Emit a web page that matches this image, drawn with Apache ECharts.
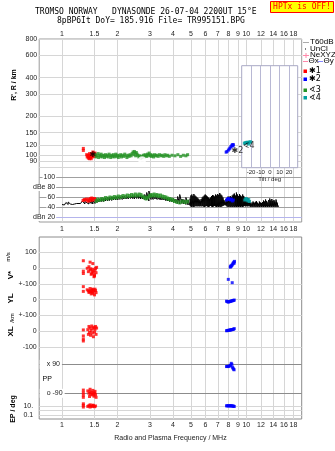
<!DOCTYPE html>
<html><head><meta charset="utf-8">
<script src="https://cdn.jsdelivr.net/npm/echarts@6/dist/echarts.min.js"></script>
<style>html,body{margin:0;padding:0;background:#fff}#c{width:335px;height:451px}</style>
</head><body><div id="c"></div>
<script>
// ---------- axis ticks / labels ----------
const freqTicks  = [1,1.5,2,3,4,5,6,7,8,9,10,12,14,16,18];
const freqLabels = ['1','1.5','2','3','4','5','6','7','8','9','10','12','14','16','18'];
const heightTicks = [800,600,400,300,200,150,120,100,90,80];
const ampTicks  = [20,40,60,80,100];
const ampLabels = ['dBn 20','40','60','dBe 80','100'];
const tiltTicks = [-20,-10,0,10,20];
const vTicks  = [100,0,-100];  const vLabels  = ['100','0','+-100'];
const ylTicks = [0,-100];      const ylLabels = ['0','+-100'];
const xlTicks = [0,-100];      const xlLabels = ['0','-100'];
const ppTicks = [90,-90];      const ppLabels = ['x 90','o -90'];
const epTicks = [10,1,0.1];    const epLabels = ['10.','','0.1'];

// ---------- virtual height R' (MHz, km) ----------
const redH = [[1.305,113],[1.305,109],[1.36,101],[1.37,97],[1.38,100],[1.39,95],[1.40,98],[1.41,94],[1.41,103],[1.42,100],[1.43,96],[1.44,99],[1.45,103],[1.46,97],[1.47,100],[1.48,104],[1.49,98],[1.50,101],[1.51,104],[1.52,99],[1.44,94],[1.47,106]];
const greenH = [[1.52,101],[1.53,97],[1.55,99],[1.57,103],[1.58,96],[1.60,100],[1.62,98],[1.63,102],[1.65,97],[1.67,100],[1.69,99],[1.70,96],[1.72,101],[1.74,98],[1.76,100],[1.78,97],[1.80,102],[1.82,99],[1.84,96],[1.86,100],[1.88,98],[1.90,101],[1.92,97],[1.94,99],[1.96,102],[1.98,98],[2.00,100],[2.02,96],[2.05,99],[2.08,101],[2.10,97],[2.13,100],[2.16,98],[2.19,102],[2.22,99],[2.25,96],[2.28,100],[2.31,98],[2.34,101],[2.37,99],[2.40,103],[2.43,106],[2.45,101],[2.47,107],[2.49,104],[2.51,99],[2.53,105],[2.55,102],[2.58,100],[2.61,97],[2.64,99],[2.67,95],[2.70,98],[2.73,96],[2.76,100],[2.79,97],[2.82,101],[2.85,99],[2.88,98],[2.91,102],[2.94,100],[2.97,104],[3.00,99],[3.03,101],[3.06,98],[3.10,100],[3.14,97],[3.18,101],[3.22,99],[3.27,100],[3.32,98],[3.38,101],[3.44,99],[3.50,100],[3.56,98],[3.62,101],[3.68,99],[3.75,100],[3.82,98],[3.95,100],[4.10,99],[4.25,101],[4.40,98],[4.55,100],[4.70,99],[4.80,101]];
const blueH = [[7.77,105.6],[7.85,107],[7.99,109.6],[8.08,112],[8.17,114],[8.25,117],[8.34,119.5],[8.42,121],[8.51,120.7],[8.45,118]];
const tealH = [[9.75,124],[9.85,125],[9.95,125],[10.05,126],[10.15,126],[10.25,125],[10.35,126],[10.45,127],[10.55,127],[10.3,122]];
const annPts   = [[1.47,100],[8.95,109],[10.3,118.7]];
const annTexts = ['✱','✱2','∢4'];
const circlePts = [[2.72,91.5]];

// ---------- amplitude (MHz, dB) ----------
const ampFreq = [1.00,1.03,1.05,1.08,1.11,1.14,1.17,1.20,1.23,1.26,1.29,1.33,1.36,1.40,1.44,1.47,1.51,1.55,1.59,1.64,1.68,1.72,1.77,1.81,1.86,1.91,1.96,2.01,2.06,2.12,2.17,2.23,2.29,2.35,2.41,2.47,2.54,2.60,2.67,2.74,2.81,2.88,2.96,3.04,3.12,3.20,3.28,3.37,3.45,3.54,3.64,3.73,3.83,3.93,4.03,4.14,4.24,4.35,4.47,4.58,4.70,4.83,4.95,
 5.00,5.06,5.13,5.19,5.26,5.33,5.40,5.47,5.54,5.61,5.68,5.76,5.83,5.91,5.98,6.06,6.14,6.22,6.30,6.38,6.47,6.55,6.64,6.72,6.81,6.90,6.99,7.08,7.17,7.27,7.36,7.46,7.55,7.65,7.75,7.85,7.96,8.06,8.17,8.27,8.38,8.49,8.60,8.72,8.83,8.95,9.06,9.18,9.30,9.42,9.55,9.67,9.80,9.93,10.06,10.19,10.32,10.46,10.59,10.73,10.87,11.02,11.16,11.31,11.45,11.60,11.76,11.91,12.07,12.22,12.38,12.55,12.71,12.88,13.05,13.22,13.39,13.57,13.74,13.92,14.11,14.29,14.48,14.67,14.86,15.05];
const ampLo = [46,45,47,46,47,46,47,48,47,48,48,47,48,47,48,47,48,50,51,52,52,53,53,54,54,55,55,55,56,56,57,57,57,58,58,57,58,58,57,57,56,55,53,56,56,57,56,56,55,55,54,53,52,51,50,49,48,47,48,47,46,45,44,
 42,41,42,41,42,43,42,43,42,43,42,43,42,41,42,43,42,41,42,43,42,41,42,43,42,41,42,41,42,41,42,43,44,45,44,42,41,42,41,42,41,42,41,42,41,42,41,42,41,42,41,42,43,42,43,42,43,42,41,42,41,42,41,42,41,42,41,42,41,42,41,42,41,42,41,42,41,42,41,42,41,42,41,42,41,40];
const ampHi = [50,49,50,51,50,49,51,51,52,51,53,52,54,53,55,54,55,56,57,58,58,59,60,60,61,61,62,62,62,63,63,64,63,64,65,64,65,64,64,63,66,70,73,66,63,64,63,62,62,61,60,59,58,57,58,57,62,66,57,56,60,55,58,
 64,66,63,67,64,62,60,58,56,54,57,60,62,64,66,64,62,60,58,60,63,65,64,62,66,64,67,65,69,66,64,60,55,52,56,58,62,60,63,61,64,66,68,64,70,66,63,67,64,62,66,63,60,58,57,59,55,50,48,50,52,49,51,53,50,48,52,50,49,51,54,52,56,53,50,55,58,54,57,53,55,52,56,50,44,42];
const redAmp = [[1.30,54],[1.32,56],[1.34,55],[1.36,57],[1.38,53],[1.40,56],[1.42,58],[1.44,54],[1.46,57],[1.48,55],[1.50,58],[1.52,56],[1.40,53],[1.45,59]];
const greenAmp = [[1.53,53],[1.56,56],[1.60,55],[1.64,57],[1.68,56],[1.72,59],[1.77,58],[1.82,60],[1.87,59],[1.92,61],[1.97,60],[2.02,62],[2.08,61],[2.14,63],[2.20,62],[2.26,64],[2.32,63],[2.38,65],[2.44,64],[2.50,66],[2.56,64],[2.62,66],[2.68,65],[2.74,62],[2.80,60],[2.86,58],[2.92,60],[2.98,63],[3.04,65],[3.10,64],[3.16,66],[3.22,64],[3.28,65],[3.34,63],[3.42,64],[3.50,62],[3.58,61],[3.66,60],[3.74,58],[3.82,57],[3.90,56],[3.98,55],[4.08,53],[4.20,51],[4.35,50],[4.50,52],[4.65,51],[4.80,52]];
const blueAmp = [[7.8,55],[7.9,57],[8.0,58],[8.1,56],[8.2,55],[8.3,57],[8.4,53],[8.5,55]];
const tealAmp = [[9.8,55],[9.9,57],[10.0,58],[10.1,55],[10.2,53],[10.3,56],[10.4,52]];

// ---------- lower panels (MHz, value) ----------
const redV  = [[1.305,46],[1.305,-20],[1.305,-35],[1.37,-2],[1.39,-23],[1.40,8],[1.42,37],[1.42,-13],[1.43,-5],[1.45,-34],[1.46,-20],[1.47,-8],[1.48,-27],[1.49,-55],[1.50,-44],[1.51,-15],[1.52,-2],[1.53,-30],[1.54,4],[1.47,28],[1.44,-40],[1.50,-50]];
const redYL = [[1.305,107],[1.305,82],[1.305,52],[1.37,62],[1.39,55],[1.40,45],[1.42,70],[1.43,50],[1.44,36],[1.45,58],[1.46,48],[1.47,40],[1.48,62],[1.49,54],[1.50,30],[1.51,66],[1.52,57],[1.53,44],[1.41,52],[1.46,66]];
const redXL = [[1.305,8],[1.305,-30],[1.305,-50],[1.305,-62],[1.38,10],[1.39,-20],[1.40,30],[1.41,-8],[1.42,20],[1.43,-26],[1.44,5],[1.45,33],[1.46,-12],[1.47,18],[1.48,-35],[1.49,25],[1.50,-5],[1.51,12],[1.52,30],[1.53,-20],[1.54,20]];
const redPP = [[1.305,-70],[1.305,-86],[1.305,-101],[1.305,-115],[1.38,-75],[1.40,-90],[1.41,-110],[1.42,-80],[1.43,-95],[1.44,-120],[1.45,-85],[1.46,-100],[1.47,-72],[1.48,-92],[1.49,-108],[1.50,-88],[1.51,-78],[1.52,-98],[1.53,-115],[1.42,-65]];
const redEP = [[1.305,30],[1.305,14],[1.305,6],[1.38,8],[1.40,12],[1.42,6],[1.44,10],[1.46,8],[1.48,12],[1.50,7],[1.52,10],[1.42,18],[1.47,15]];
const blueV  = [[8.18,5],[8.25,10],[8.32,15],[8.38,20],[8.44,26],[8.50,32],[8.56,37],[8.62,42],[8.22,12],[8.58,30],[7.98,-72],[8.38,-93]];
const blueYL = [[7.80,-10],[7.88,-12],[7.96,-16],[8.04,-14],[8.12,-12],[8.20,-11],[8.28,-9],[8.36,-8],[8.44,-6],[8.52,-5],[8.60,-3]];
const blueXL = [[7.80,3],[7.88,4],[7.96,5],[8.04,6],[8.12,7],[8.20,8],[8.28,9],[8.36,10],[8.44,11],[8.52,13],[8.60,16]];
const bluePP = [[7.80,76],[7.88,77],[7.96,76],[8.04,78],[8.12,80],[8.20,84],[8.28,96],[8.34,90],[8.40,72],[8.46,66],[8.52,60],[8.58,56]];
const blueEP = [[7.80,11],[7.88,11],[7.96,11],[8.04,11],[8.12,11],[8.20,11],[8.28,11],[8.36,10],[8.44,10],[8.52,9],[8.60,8]];

// ---------- build ----------
const L = Math.log10;
const FMIN = 0.752, FMAX = 19.96, HMIN = 30.3, HMAX = 800, EPMIN = 0.016, EPMAX = 525;
const RED='#ff0000', BLUE='#0000ff', GREEN='#259225', TEAL='#00a0a0';
const FONT = 'Liberation Sans';
const GL = 39.2, GW = 262.5;
const fmt = (ticks, labels, tf) => v => { const i = ticks.findIndex(t => Math.abs(tf(t) - v) < 1e-6); return i >= 0 ? labels[i] : ''; };
const id = x => x;
const lab = (o) => Object.assign({fontSize:7, color:'#222', fontFamily:FONT}, o);

const logX = (gi, pos) => ({type:'log', gridIndex:gi, min:FMIN, max:FMAX, show:false, position:pos});
const valX = (gi, pos, showLab, split, extra) => Object.assign({
  type:'value', gridIndex:gi, position:pos, min:L(FMIN), max:L(FMAX),
  axisLine:{show:false}, axisTick:{show:false, customValues:freqTicks.map(L)},
  splitLine:{show:split, lineStyle:{color:'#d6d6d6', width:1}},
  axisLabel:lab({show:showLab, customValues:freqTicks.map(L), formatter:fmt(freqTicks,freqLabels,L), margin:3})
}, extra||{});
const valY = (gi, min, max, ticks, labels, o) => Object.assign({
  type:'value', gridIndex:gi, position:'left', min, max,
  axisLine:{show:false}, axisTick:{show:false, customValues:ticks},
  splitLine:{show:true, lineStyle:{color:'#d6d6d6', width:1}},
  axisLabel:lab({customValues:ticks, formatter:fmt(ticks,labels,id), margin:2.5})
}, o||{});

const xAxis = [
  logX(0,'bottom'),                         //0
  valX(0,'top',true,true,{axisLabel:lab({customValues:freqTicks.map(L), formatter:fmt(freqTicks,freqLabels,L), margin:1.5})}), //1
  logX(1,'top'),                            //2
  valX(1,'bottom',true,false,{axisLabel:lab({customValues:freqTicks.map(L), formatter:fmt(freqTicks,freqLabels,L), margin:4})}), //3
  {type:'value', gridIndex:2, min:-29.8, max:29.2, z:2,
   axisLine:{show:false}, axisTick:{show:false, customValues:tiltTicks},
   splitLine:{show:true, lineStyle:{color:'#b8b8d4'}},
   axisLabel:lab({customValues:tiltTicks, fontSize:6, margin:1.5}),
   name:'Tilt / deg', nameLocation:'middle', nameGap:9, nameTextStyle:{fontSize:6, color:'#222', fontFamily:FONT}}, //4
  valX(3,'bottom',true,true,{name:'Radio and Plasma Frequency / MHz', nameLocation:'middle', nameGap:16, nameTextStyle:{fontSize:7, color:'#222', fontFamily:FONT}}), //5
  logX(4,'bottom'), logX(5,'bottom'), logX(6,'bottom'), logX(7,'bottom'), logX(8,'bottom') //6..10
];
const yAxis = [
  {type:'log', gridIndex:0, min:HMIN, max:HMAX, show:false, position:'right'}, //0
  {type:'value', gridIndex:0, position:'left', min:L(HMIN), max:L(HMAX),
   axisLine:{show:false}, axisTick:{show:false, customValues:heightTicks.map(L)},
   splitLine:{show:true, lineStyle:{color:'#d6d6d6'}},
   axisLabel:lab({customValues:heightTicks.map(L), formatter:fmt(heightTicks,heightTicks.map(String),L), margin:2})}, //1
  valY(1, 11, 107, ampTicks, ampLabels, {offset:-18, z:1,
   splitLine:{show:true, lineStyle:{color:['#b4b4ec','#a0a0a0','#a0a0a0','#a0a0a0','#a0a0a0']}},
   axisLabel:lab({customValues:ampTicks, formatter:fmt(ampTicks,ampLabels,id), margin:1, backgroundColor:'#fff', padding:[0,1]})}), //2
  {type:'value', gridIndex:2, show:false, min:0, max:1}, //3
  {type:'value', gridIndex:3, show:false, min:0, max:1}, //4
  valY(4, -100, 196.2, vTicks, vLabels), //5
  valY(5, -100, 100, ylTicks, ylLabels), //6
  valY(6, -100, 100, xlTicks, xlLabels), //7
  valY(7, -119.2, 197.4, ppTicks, ppLabels, {z:1, splitLine:{show:true, lineStyle:{color:'#8c8c8c'}},
   axisLabel:lab({customValues:ppTicks, formatter:fmt(ppTicks,ppLabels,id), inside:true, margin:0.5, backgroundColor:'#fff', padding:[1,2,1,7]})}), //8
  {type:'log', gridIndex:8, min:EPMIN, max:EPMAX, show:false, position:'right'}, //9
  valY(8, L(EPMIN), L(EPMAX), epTicks.map(L), epLabels, {axisLabel:lab({customValues:epTicks.map(L), formatter:fmt(epTicks,epLabels,L), margin:6})}) //10
];

const sc = (data, color, xi, yi, size, extra) => Object.assign({type:'scatter', data, xAxisIndex:xi, yAxisIndex:yi, symbol:'rect', symbolSize:size||3, itemStyle:{color}, z:5, silent:true, animation:false}, extra||{});
const ampLine = [];
ampFreq.forEach((f,i) => { ampLine.push([f, ampLo[i]]); ampLine.push([f, ampHi[i]]); });

const series = [
  sc(redH, RED, 0, 0), sc(greenH, GREEN, 0, 0), sc(blueH, BLUE, 0, 0), sc(tealH, TEAL, 0, 0),
  {type:'scatter', data:circlePts, xAxisIndex:0, yAxisIndex:0, symbol:'emptyCircle', symbolSize:6, itemStyle:{color:'#fff', borderColor:'#000', borderWidth:1}, z:6, silent:true, animation:false},
  {type:'scatter', data:annPts, xAxisIndex:0, yAxisIndex:0, symbolSize:0, z:7, silent:true, animation:false,
   label:{show:true, position:'inside', formatter:p => annTexts[p.dataIndex], color:'#000', fontSize:8, fontFamily:'DejaVu Sans'}},
  {type:'line', data:ampLine, xAxisIndex:2, yAxisIndex:2, showSymbol:false, symbol:'none', lineStyle:{color:'#000', width:1}, z:4, silent:true, animation:false},
  sc(redAmp, RED, 2, 2), sc(greenAmp, GREEN, 2, 2, [3,4]), sc(blueAmp, BLUE, 2, 2), sc(tealAmp, TEAL, 2, 2),
  sc(redV, RED, 6, 5), sc(blueV, BLUE, 6, 5),
  sc(redYL, RED, 7, 6), sc(blueYL, BLUE, 7, 6),
  sc(redXL, RED, 8, 7), sc(blueXL, BLUE, 8, 7),
  sc(redPP, RED, 9, 8), sc(bluePP, BLUE, 9, 8),
  sc(redEP, RED, 10, 9), sc(blueEP, BLUE, 10, 9)
];

const T = (x, y, text, font, o) => { o = o || {}; return {type:'text', x, y, rotation:o.rot||0, silent:true, z:50,
  style:{text, font, fill:o.fill||'#000', textAlign:o.align||'left', textVerticalAlign:'middle', align:o.align||'left', verticalAlign:'middle'}}; };
const R = (x, y, w, h, fill) => ({type:'rect', silent:true, z:50, shape:{x, y, width:w, height:h}, style:{fill}});
const Ln = (x1, y1, x2, y2, c) => ({type:'line', silent:true, z:50, shape:{x1, y1, x2, y2}, style:{stroke:c, lineWidth:1}});
const MONO = '8px "DejaVu Sans Mono"';
const SM = '8px "Liberation Sans"';
const graphic = [
  T(35, 12.3, 'TROMSO NORWAY   DYNASONDE 26-07-04 2200UT 15°E', MONO),
  T(57, 20.7, '8pBP6It DoY= 185.916 File= TR995151.BPG', MONO),
  {type:'rect', silent:true, z:50, shape:{x:270.5, y:1.5, width:63, height:11}, style:{fill:'#ffff00', stroke:'#ff0000', lineWidth:1}},
  T(302, 7.2, 'HPTx is OFF!', MONO, {fill:'#ff0000', align:'center'}),
  Ln(303, 42.5, 309, 42.5, '#aaaaaa'), T(310, 42, 'T60dB', SM),
  R(305, 48.5, 1, 1, '#000'), T(310, 49, 'UnCl', SM),
  Ln(303, 55.5, 309, 55.5, '#ff88aa'), Ln(306, 53, 306, 58, '#ff88aa'), T(310, 55, 'NeXYZ', SM),
  Ln(303, 61.5, 308, 61.5, '#ff88aa'), T(308.5, 61, 'Θx', SM), Ln(318, 61.5, 323, 61.5, '#8888ff'), T(323.5, 61, 'Θy', SM),
  R(303.5, 69.5, 3.5, 3.5, RED),   T(309, 71.3, '✱1', '8px "DejaVu Sans"'),
  R(303.5, 77.5, 3.5, 3.5, BLUE),  T(309, 79, '✱2', '8px "DejaVu Sans"'),
  R(303.5, 88.5, 3.5, 3.5, GREEN), T(309, 90, '∢3', '8px "DejaVu Sans"'),
  R(303.5, 96, 3.5, 3.5, TEAL),    T(309, 97.7, '∢4', '8px "DejaVu Sans"'),
  T(14.5, 85, "R', R / km", 'bold 7px "Liberation Sans"', {rot:Math.PI/2, align:'center'}),
  T(11, 275, 'V*', 'bold 8px "Liberation Sans"', {rot:Math.PI/2, align:'center'}),
  T(8, 257, 'm/s', '6px "Liberation Sans"', {rot:Math.PI/2, align:'center'}),
  T(11, 298.5, 'YL', 'bold 8px "Liberation Sans"', {rot:Math.PI/2, align:'center'}),
  T(12, 318, '/km', '6px "Liberation Sans"', {rot:Math.PI/2, align:'center'}),
  T(11, 331.5, 'XL', 'bold 8px "Liberation Sans"', {rot:Math.PI/2, align:'center'}),
  T(42.5, 379.5, 'PP', '7px "Liberation Sans"'),
  T(13.5, 409, 'EP / deg', 'bold 7px "Liberation Sans"', {rot:Math.PI/2, align:'center'})
];

const option = {
  animation:false,
  backgroundColor:'#fff',
  textStyle:{fontFamily:FONT},
  grid:[
    {left:GL, top:39, width:GW, height:183, show:true, borderColor:'#9a9a9a', borderWidth:1}, //0
    {left:GL, top:174, width:GW, height:48},                                                   //1
    {left:241.7, top:65.7, width:56, height:102, show:true, borderColor:'#a8a8c4', backgroundColor:'#fff', z:1}, //2
    {left:GL, top:237, width:GW, height:182, show:true, borderColor:'#8c8c8c', borderWidth:1}, //3
    {left:GL, top:237, width:GW, height:46.8},   //4
    {left:GL, top:283.8, width:GW, height:31.6}, //5
    {left:GL, top:315.4, width:GW, height:31.6}, //6
    {left:GL, top:347, width:GW, height:51},     //7
    {left:GL, top:398, width:GW, height:21}      //8
  ],
  xAxis, yAxis, series, graphic
};
const chart = echarts.init(document.getElementById('c'), null, {renderer:'canvas'});
chart.setOption(option);
</script>
</body></html>
